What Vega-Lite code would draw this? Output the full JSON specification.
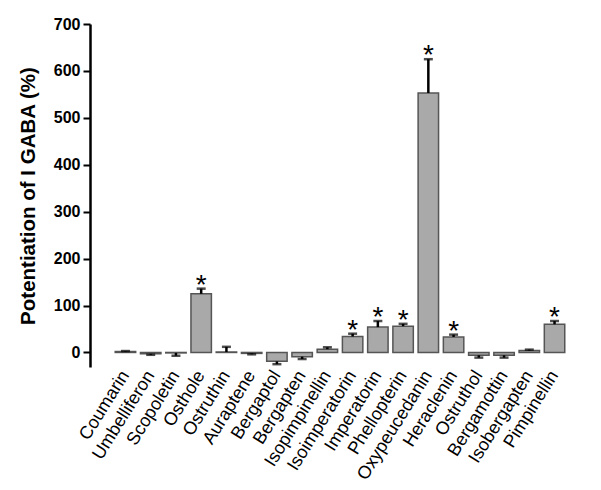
{
  "$schema": "https://vega.github.io/schema/vega-lite/v6.json",
  "width": 500,
  "height": 343,
  "padding": {"top": 16, "left": 18, "right": 5, "bottom": 5},
  "background": "white",
  "config": {"view": {"stroke": null}, "font": "Liberation Sans"},
  "data": {
    "values": [
      {"compound": "Coumarin", "value": 2, "tip": 3, "sig": ""},
      {"compound": "Umbelliferon", "value": -3, "tip": -5, "sig": ""},
      {"compound": "Scopoletin", "value": -1, "tip": -7, "sig": ""},
      {"compound": "Osthole", "value": 125, "tip": 136, "sig": "*"},
      {"compound": "Ostruthin", "value": 1, "tip": 12, "sig": ""},
      {"compound": "Auraptene", "value": -2, "tip": -4, "sig": ""},
      {"compound": "Bergaptol", "value": -19, "tip": -25, "sig": ""},
      {"compound": "Bergapten", "value": -9, "tip": -14, "sig": ""},
      {"compound": "Isopimpinellin", "value": 7, "tip": 11, "sig": ""},
      {"compound": "Isoimperatorin", "value": 34, "tip": 40, "sig": "*"},
      {"compound": "Imperatorin", "value": 54, "tip": 67, "sig": "*"},
      {"compound": "Phellopterin", "value": 56, "tip": 61, "sig": "*"},
      {"compound": "Oxypeucedanin", "value": 553, "tip": 625, "sig": "*"},
      {"compound": "Heraclenin", "value": 33, "tip": 38, "sig": "*"},
      {"compound": "Ostruthol", "value": -6, "tip": -11, "sig": ""},
      {"compound": "Bergamottin", "value": -6, "tip": -11, "sig": ""},
      {"compound": "Isobergapten", "value": 4, "tip": 6, "sig": ""},
      {"compound": "Pimpinellin", "value": 60, "tip": 67, "sig": "*"}
    ]
  },
  "encoding": {
    "x": {
      "field": "compound",
      "type": "nominal",
      "sort": null,
      "scale": {"paddingInner": 0.19, "paddingOuter": 1.18},
      "axis": {
        "title": null,
        "domain": false,
        "ticks": false,
        "labelAngle": -58,
        "labelFontSize": 18,
        "labelColor": "black",
        "labelPadding": 5
      }
    }
  },
  "layer": [
    {
      "mark": {"type": "bar", "fill": "#a9a9a9", "stroke": "#555555", "strokeWidth": 1.5},
      "encoding": {
        "y": {
          "field": "value",
          "type": "quantitative",
          "scale": {"domain": [-31, 700], "nice": false, "zero": false},
          "axis": {
            "title": "Potentiation of I GABA (%)",
            "titleFontSize": 20.5,
            "titleFontWeight": "bold",
            "titleColor": "black",
            "titlePadding": 15,
            "values": [0, 50, 100, 150, 200, 250, 300, 350, 400, 450, 500, 550, 600, 650, 700],
            "labelExpr": "datum.value % 100 === 0 ? datum.label : ''",
            "labelFontSize": 16,
            "labelFontWeight": "bold",
            "labelColor": "black",
            "labelPadding": 3,
            "grid": false,
            "domainColor": "black",
            "domainWidth": 2.5,
            "tickColor": "black",
            "tickWidth": 2,
            "tickSize": {"condition": {"test": "datum.value % 100 === 0", "value": 7}, "value": 4}
          }
        }
      }
    },
    {
      "mark": {"type": "rule", "color": "black", "strokeWidth": 2.5},
      "encoding": {
        "y": {"field": "value", "type": "quantitative"},
        "y2": {"field": "tip"}
      }
    },
    {
      "mark": {"type": "tick", "color": "black", "thickness": 2.5, "size": 9},
      "encoding": {
        "y": {"field": "tip", "type": "quantitative"}
      }
    },
    {
      "mark": {"type": "text", "fontSize": 28, "dy": 5, "baseline": "alphabetic", "color": "black"},
      "encoding": {
        "y": {"field": "tip", "type": "quantitative"},
        "text": {"field": "sig"}
      }
    },
    {
      "mark": {"type": "rule", "color": "black", "strokeWidth": 2},
      "encoding": {"y": {"datum": 0}}
    }
  ]
}
